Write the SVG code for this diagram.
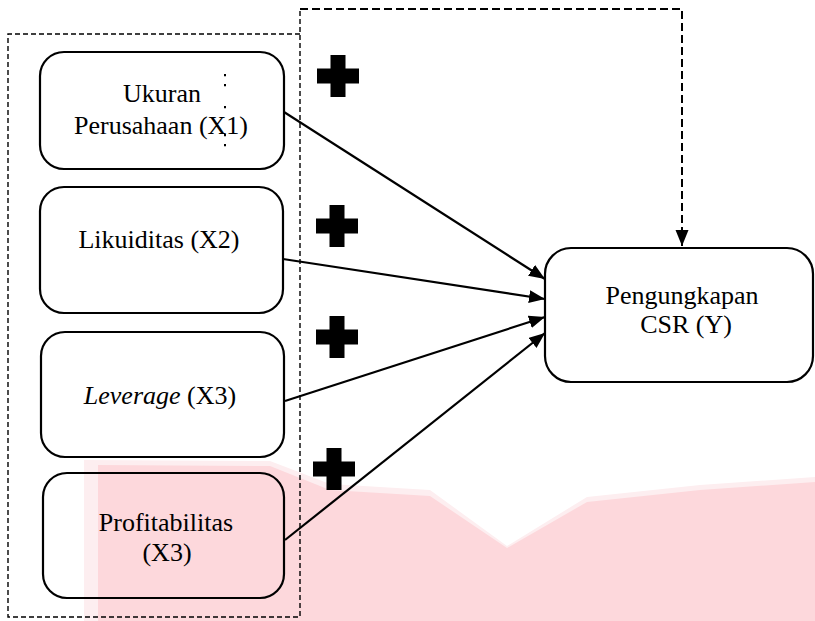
<svg xmlns="http://www.w3.org/2000/svg" xmlns:xlink="http://www.w3.org/1999/xlink" width="815" height="621" viewBox="0 0 815 621">
<style>
.box{fill:none;stroke:#000;stroke-width:2.2}
.t{font-family:"Liberation Serif","Times New Roman",serif;font-size:26px;fill:#000;text-anchor:middle}
.it{font-style:italic}
.conn{fill:none;stroke:#000;stroke-width:2.2}
.dash{fill:none;stroke:#000;stroke-width:1.4;stroke-dasharray:5 3}
.dconn{fill:none;stroke:#000;stroke-width:2;stroke-dasharray:8 4}
.plus{fill:#000}
</style>
<defs>
<marker id="ah" markerUnits="userSpaceOnUse" markerWidth="18" markerHeight="14" refX="16" refY="6.5" orient="auto">
<path d="M0,0 L16,6.5 L0,13 z" fill="#000"/>
</marker>
<filter id="soft" x="-20%" y="-20%" width="140%" height="140%"><feGaussianBlur stdDeviation="0.6"/></filter>
<path id="plusShape" d="M-7.5,-21 h15 v13.5 h13.5 v15 h-13.5 v13.5 h-15 v-13.5 h-13.5 v-15 h13.5 z"/>
</defs>
<rect x="0" y="0" width="815" height="621" fill="#fff"/>
<g id="watermark">
<polygon points="84,460 270,461 330,484 430,490 507,546 587,497 700,485 815,477 815,621 84,621" fill="#fdeef0"/>
<polygon points="98,465 270,466 330,490 430,496 507,548 587,502 700,490 815,482 815,621 98,621" fill="#fdd8dc"/>
</g>
<g id="group-frame">
<path class="dash" d="M300,34 H8 V617 H300 V9"/>
</g>
<g id="connectors">
<path class="dconn" d="M300,9 H682 V246" marker-end="url(#ah)"/>
<line class="conn" x1="284" y1="112" x2="545" y2="279" marker-end="url(#ah)"/>
<line class="conn" x1="283" y1="259" x2="545" y2="299" marker-end="url(#ah)"/>
<line class="conn" x1="285" y1="401" x2="545" y2="317" marker-end="url(#ah)"/>
<line class="conn" x1="285" y1="540" x2="545" y2="333" marker-end="url(#ah)"/>
</g>
<g id="signs" filter="url(#soft)">
<use class="plus" xlink:href="#plusShape" x="338" y="76"/>
<use class="plus" xlink:href="#plusShape" x="337" y="226"/>
<use class="plus" xlink:href="#plusShape" x="337" y="337"/>
<use class="plus" xlink:href="#plusShape" x="334" y="469"/>
</g>
<g id="node-x1">
<rect class="box" x="40" y="52" width="244" height="117" rx="24" ry="24"/>
<text class="t" x="162" y="102">Ukuran</text>
<text class="t" x="161" y="134">Perusahaan (X1)</text>
<path d="M225,74 v2.2 M225,84 v2.2 M225,106 v2.2 M225,134 v2.2 M225,144 v2.2" stroke="#000" stroke-width="2" fill="none"/>
</g>
<g id="node-x2">
<rect class="box" x="40" y="187" width="243" height="126" rx="24" ry="24"/>
<text class="t" x="159" y="248">Likuiditas (X2)</text>
</g>
<g id="node-x3">
<rect class="box" x="41" y="332" width="243" height="125" rx="24" ry="24"/>
<text class="t" x="160" y="404"><tspan class="it">Leverage</tspan> (X3)</text>
</g>
<g id="node-x4">
<rect class="box" x="43" y="473" width="241" height="125" rx="24" ry="24"/>
<text class="t" x="166" y="531">Profitabilitas</text>
<text class="t" x="167" y="561">(X3)</text>
</g>
<g id="node-y">
<rect class="box" x="545" y="248" width="268" height="134" rx="26" ry="26"/>
<text class="t" x="682" y="304">Pengungkapan</text>
<text class="t" x="686" y="333">CSR (Y)</text>
</g>
</svg>
